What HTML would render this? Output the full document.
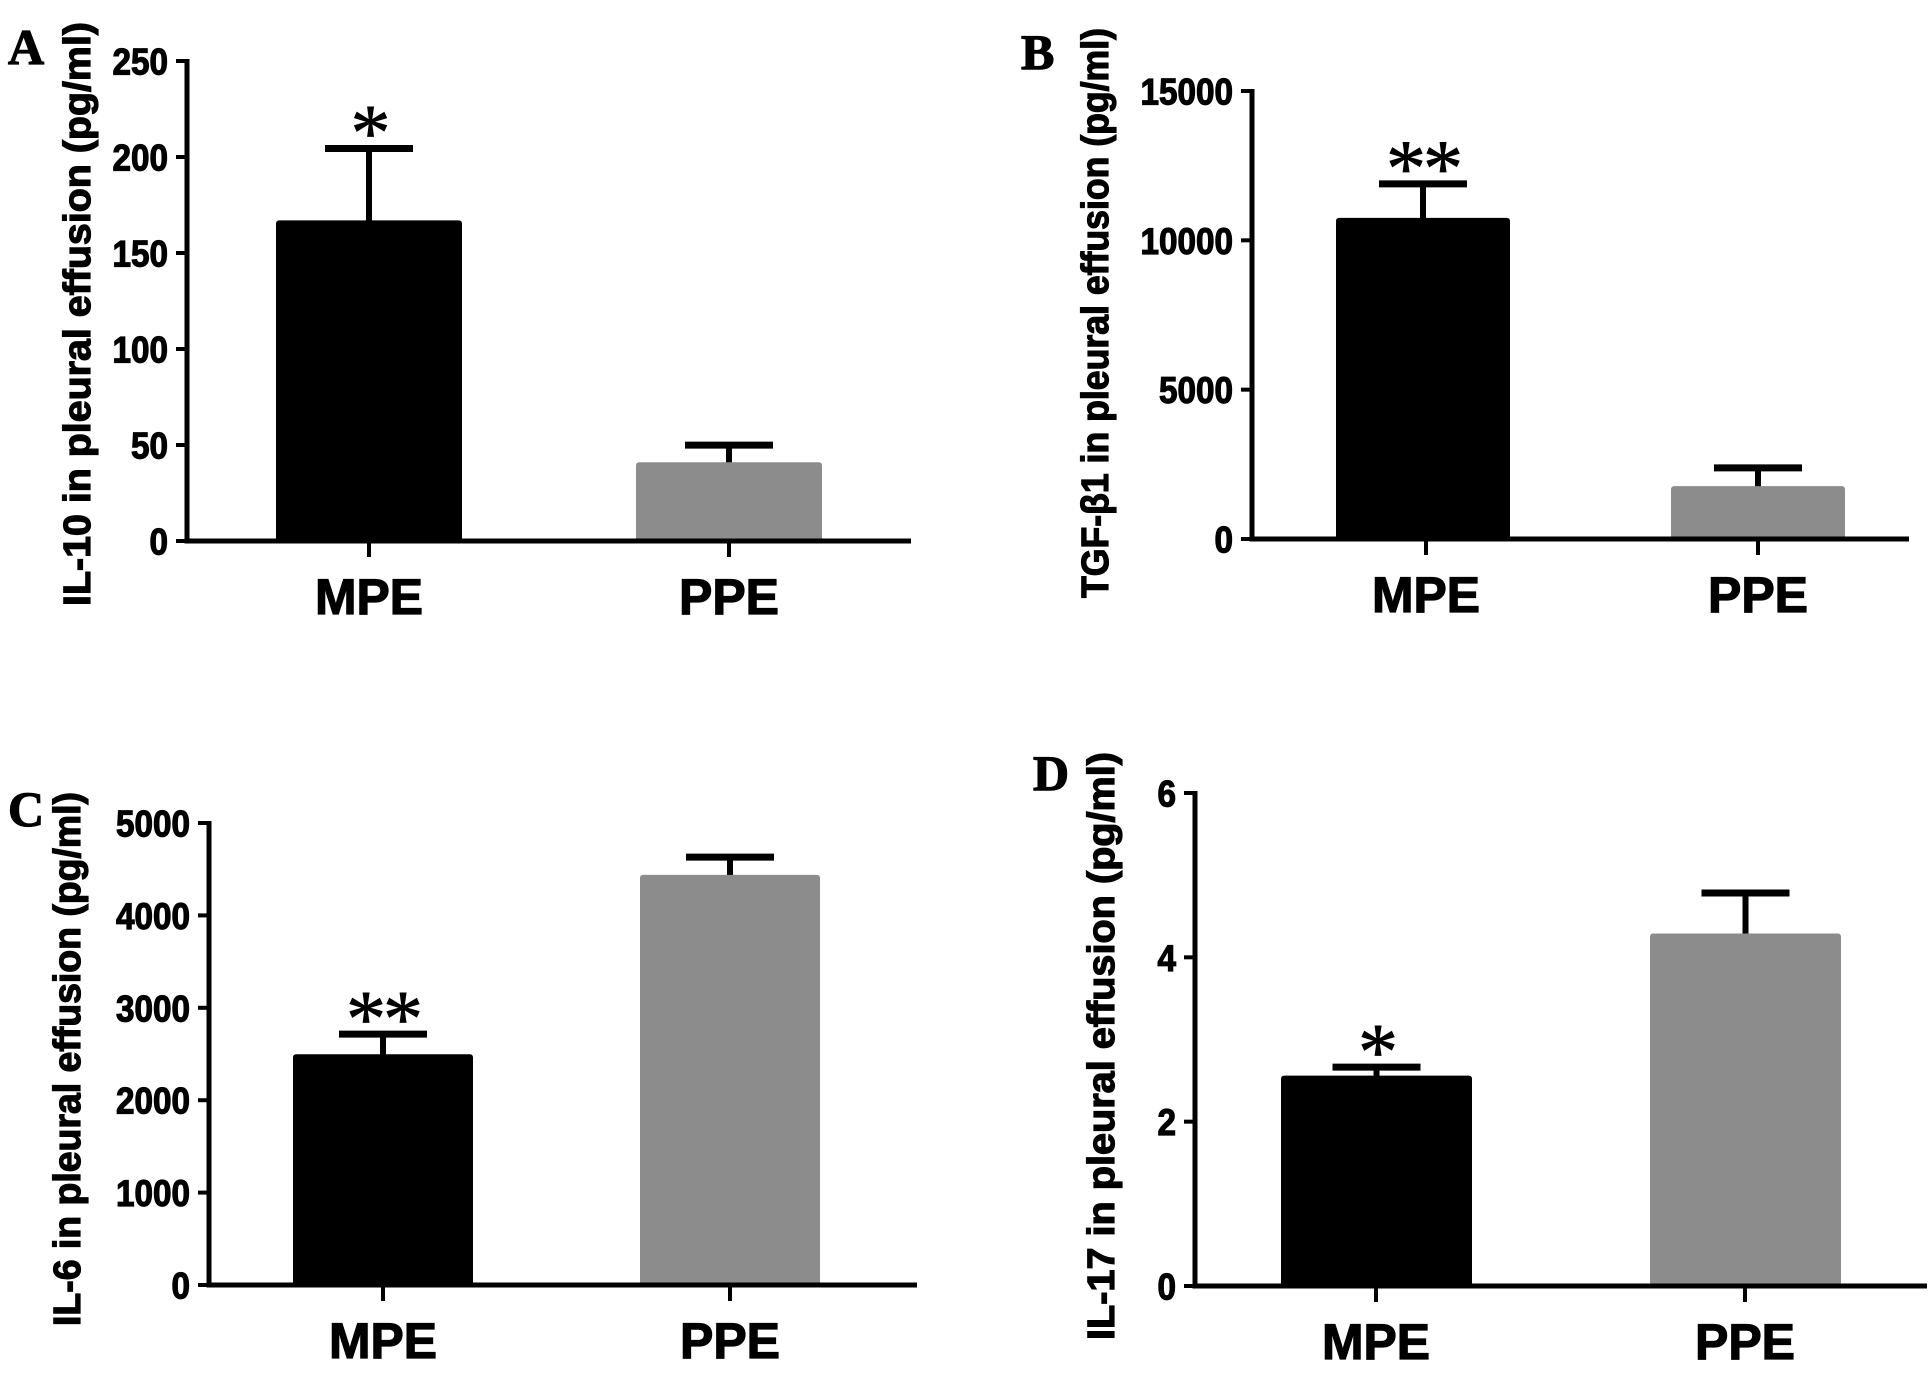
<!DOCTYPE html>
<html><head><meta charset="utf-8"><style>
html,body{margin:0;padding:0;background:#fff}
svg{display:block}
text{font-family:"Liberation Sans",sans-serif;font-weight:bold;fill:#000;stroke:#000;stroke-width:1.2px}
</style></head><body>
<svg id="fig" width="1931" height="1377" viewBox="0 0 1931 1377" xmlns="http://www.w3.org/2000/svg"></svg>
<script>
const categories = ["MPE", "PPE"];
const colors = ["#000000", "#8c8c8c"];
// Panel A: IL-10
const valuesA = [167, 41];
const errorsA = [39, 10.5];
const ticksA = [0, 50, 100, 150, 200, 250];
const starsA = ["*", ""];
// Panel B: TGF-b1
const valuesB = [10750, 1770];
const errorsB = [1240, 710];
const ticksB = [0, 5000, 10000, 15000];
const starsB = ["**", ""];
// Panel C: IL-6
const valuesC = [2497, 4438];
const errorsC = [250, 225];
const ticksC = [0, 1000, 2000, 3000, 4000, 5000];
const starsC = ["**", ""];
// Panel D: IL-17
const valuesD = [2.56, 4.29];
const errorsD = [0.14, 0.53];
const ticksD = [0, 2, 4, 6];
const starsD = ["*", ""];

const NS = "http://www.w3.org/2000/svg";
const svg = document.getElementById("fig");
function mk(tag, attrs, parent) {
  const e = document.createElementNS(NS, tag);
  for (const k in attrs) e.setAttribute(k, attrs[k]);
  (parent || svg).appendChild(e);
  return e;
}

function panel(cfg, values, errors, ticks, stars) {
  const g = mk("g", {});
  
  
  const yMax = ticks[ticks.length - 1];
  const y = v => cfg.y0 - (v / yMax) * (cfg.y0 - cfg.yTop);
  const L = mk("text", {x: cfg.lx, y: cfg.ly, "font-size": 50, style: "font-family:'Liberation Serif',serif;font-weight:bold"}, g);
  L.textContent = cfg.id;
  
  
  const cy = (cfg.t1 + cfg.t2) / 2;
  const T = mk("text", {x: 0, y: 0, "font-size": 38, "text-anchor": "middle", textLength: cfg.t2 - cfg.t1, lengthAdjust: "spacingAndGlyphs",
    transform: "translate(" + (cfg.tx + 14) + "," + cy + ") rotate(-90)"}, g);
  T.textContent = cfg.title;
  
  
  categories.forEach((c, i) => {
    const x1 = cfg.bx[i], x2 = cfg.bx[i] + cfg.bw, xc = (x1 + x2) / 2;
    const top = y(values[i]), et = y(values[i] + errors[i]);
    const st = mk("line", {x1: xc, x2: xc, y1: top + 2, y2: et, stroke: "#000", "stroke-width": 6}, g);
    
    
    const cap = mk("line", {x1: xc - 44, x2: xc + 44, y1: et + 3, y2: et + 3, stroke: "#000", "stroke-width": 7}, g);
    
    
    const b = mk("rect", {x: x1, y: top, width: cfg.bw, height: cfg.y0 - top, fill: colors[i], rx: 3}, g);
    
    
    if (stars[i]) {
      const s = mk("text", {x: xc, y: et - 5 + 0.24 * 80, "font-size": 80, "text-anchor": "middle",
        style: "font-family:'Liberation Serif',serif;font-weight:normal;letter-spacing:-3px;stroke-width:0.8px"}, g);
      s.textContent = stars[i];
      
      
    }
    const tk = mk("line", {x1: cfg.cx[i], x2: cfg.cx[i], y1: cfg.y0, y2: cfg.y0 + 16, stroke: "#000", "stroke-width": 4}, g);
    
    
    const cl = mk("text", {x: cfg.cx[i], y: cfg.y0 + 73, "font-size": 50, "text-anchor": "middle", textLength: c === "MPE" ? 108 : 100, lengthAdjust: "spacingAndGlyphs"}, g);
    cl.textContent = c;
    
    
  });
  const ya = mk("line", {x1: cfg.ax, x2: cfg.ax, y1: cfg.yTop - 2, y2: cfg.y0 + 2.5, stroke: "#000", "stroke-width": 5}, g);
  
  
  const xa = mk("line", {x1: cfg.ax - 2.5, x2: cfg.axEnd, y1: cfg.y0, y2: cfg.y0, stroke: "#000", "stroke-width": 5}, g);
  
  
  ticks.forEach(t => {
    const ty = y(t);
    const l = mk("line", {x1: cfg.ax - 11, x2: cfg.ax, y1: ty, y2: ty, stroke: "#000", "stroke-width": 4}, g);
    
    
    const s = String(t);
    const tl = mk("text", {x: cfg.ax - 19, y: ty + 13.5, "font-size": 37, "text-anchor": "end", textLength: s.length * 18.5, lengthAdjust: "spacingAndGlyphs"}, g);
    tl.textContent = s;
    
    
  });
}

panel({id: "A", lx: 8, ly: 64, title: "IL-10 in pleural effusion (pg/ml)", tx: 76, t1: 22, t2: 606,
  ax: 187, axEnd: 911, y0: 541, yTop: 61, bx: [276, 636], bw: 186, cx: [369, 729]}, valuesA, errorsA, ticksA, starsA);
panel({id: "B", lx: 1021, ly: 69, title: "TGF-β1 in pleural effusion (pg/ml)", tx: 1094, t1: 28, t2: 598,
  ax: 1252, axEnd: 1909, y0: 539, yTop: 91, bx: [1336, 1671], bw: 174, cx: [1426, 1758]}, valuesB, errorsB, ticksB, starsB);
panel({id: "C", lx: 8, ly: 826, title: "IL-6 in pleural effusion (pg/ml)", tx: 66, t1: 792, t2: 1326,
  ax: 209, axEnd: 917, y0: 1285, yTop: 823, bx: [293, 640], bw: 180, cx: [383, 730]}, valuesC, errorsC, ticksC, starsC);
panel({id: "D", lx: 1033, ly: 790, title: "IL-17 in pleural effusion (pg/ml)", tx: 1100, t1: 752, t2: 1340,
  ax: 1195, axEnd: 1927, y0: 1286, yTop: 793, bx: [1281, 1650], bw: 191, cx: [1376, 1745]}, valuesD, errorsD, ticksD, starsD);
</script>
</body></html>
